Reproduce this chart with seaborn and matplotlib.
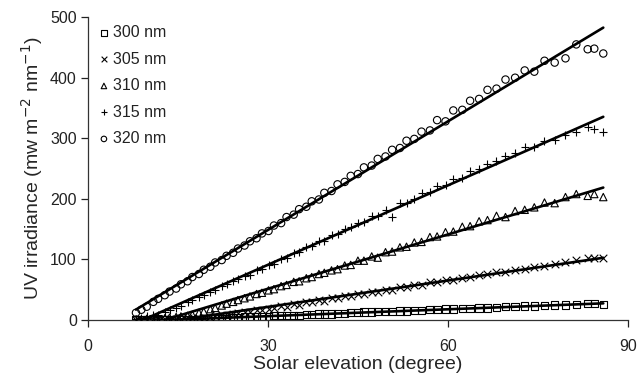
import numpy as np
import pandas as pd
import matplotlib
matplotlib.use("Agg")
import matplotlib.pyplot as plt
import seaborn as sns

elevation = [8.0, 8.9, 9.8, 10.9, 11.7, 12.8, 13.6, 14.7, 15.5, 16.6, 17.4, 18.5, 19.3, 20.4,
             21.2, 22.3, 23.1, 24.2, 25.0, 26.1, 27.0, 28.1, 29.0, 30.1, 31.0, 32.2, 33.1, 34.3,
             35.2, 36.4, 37.3, 38.5, 39.4, 40.6, 41.6, 42.8, 43.8, 45.0, 46.0, 47.3, 48.3, 49.6,
             50.7, 52.0, 53.1, 54.4, 55.6, 57.0, 58.2, 59.6, 60.9, 62.4, 63.7, 65.2, 66.6, 68.1,
             69.6, 71.2, 72.8, 74.4, 76.1, 77.8, 79.6, 81.4, 83.3, 84.4, 85.9]

uv_300 = [0, 0, 0, 0, 0, 0, 0, 0, 0, 1, 1, 1, 2, 2, 3, 3, 3, 4, 4, 5, 5, 5, 6, 6, 7, 7, 7, 8,
          8, 9, 9, 10, 10, 10, 11, 11, 12, 12, 13, 13, 14, 14, 14, 15, 15, 16, 16, 17, 17, 18,
          18, 19, 19, 20, 20, 21, 22, 22, 23, 23, 24, 25, 25, 26, 27, 27, 26]

uv_305 = [0, 0, 0, 1, 1, 1, 1, 2, 2, 3, 3, 4, 4, 5, 6, 8, 8, 10, 11, 13, 14, 16, 17, 19, 20,
          23, 22, 27, 25, 30, 29, 33, 32, 36, 36, 40, 39, 43, 43, 47, 46, 50, 50, 54, 54, 58,
          58, 62, 62, 66, 66, 70, 71, 74, 76, 79, 80, 83, 85, 87, 90, 93, 96, 99, 102, 103, 102]

uv_310 = [1, 1, 2, 2, 3, 3, 4, 5, 6, 7, 9, 12, 14, 18, 20, 24, 27, 30, 33, 36, 39, 43, 45, 49,
          51, 56, 58, 63, 64, 69, 71, 76, 78, 82, 84, 90, 91, 98, 98, 105, 103, 112, 113, 120,
          121, 128, 129, 137, 138, 145, 146, 154, 155, 163, 165, 172, 170, 180, 182, 186, 194,
          193, 203, 208, 205, 208, 203]

uv_315 = [2, 4, 6, 8, 9, 13, 16, 20, 24, 29, 33, 38, 42, 47, 50, 56, 59, 64, 67, 73, 75, 82,
          84, 91, 93, 101, 103, 111, 112, 121, 122, 131, 131, 141, 142, 151, 153, 161, 162, 172,
          172, 182, 170, 193, 194, 200, 209, 212, 221, 223, 233, 235, 246, 249, 258, 262, 271,
          275, 285, 285, 296, 298, 305, 310, 318, 316, 310]

uv_320 = [12, 17, 22, 30, 35, 41, 47, 52, 59, 64, 71, 76, 83, 88, 95, 99, 106, 111, 118, 123,
          130, 135, 143, 147, 156, 160, 170, 174, 183, 187, 196, 199, 210, 213, 224, 228, 238,
          241, 252, 255, 266, 270, 281, 284, 296, 299, 311, 313, 330, 328, 346, 347, 362, 365,
          380, 382, 397, 400, 412, 410, 428, 425, 432, 455, 447, 448, 440]

wavelengths = ["300 nm", "305 nm", "310 nm", "315 nm", "320 nm"]
series = [uv_300, uv_305, uv_310, uv_315, uv_320]
markers = ["s", "x", "^", "+", "o"]

x_ticks = [0, 30, 60, 90]
y_ticks = [0, 100, 200, 300, 400, 500]

sns.set_theme(style="white")
plt.rcParams["font.family"] = ["Liberation Sans", "DejaVu Sans"]
plt.rcParams["text.color"] = "#222222"

fig = plt.figure(figsize=(6.42, 3.81), dpi=100)
ax = fig.add_axes([0.137, 0.160, 0.841, 0.795])

for name, vals, mk in zip(wavelengths, series, markers):
    df = pd.DataFrame({"elev": elevation, "uv": vals})
    if mk in ("x", "+"):
        sns.scatterplot(data=df, x="elev", y="uv", marker=mk, color="black", s=30,
                        linewidth=0.8, ax=ax, label=name, zorder=3)
    else:
        sns.scatterplot(data=df, x="elev", y="uv", marker=mk, facecolor="none",
                        edgecolor="black", s=28, linewidth=0.8, ax=ax, label=name, zorder=3)
    sns.regplot(data=df, x="elev", y="uv", scatter=False, ci=None, truncate=True,
                line_kws={"color": "black", "lw": 1.9, "zorder": 4}, ax=ax)

ax.set_xlim(0, 90)
ax.set_ylim(0, 500)
ax.set_xticks(x_ticks)
ax.set_yticks(y_ticks)
ax.tick_params(axis="both", labelsize=11.5, colors="#222222", length=5, width=0.9,
               direction="out", bottom=True, left=True)
ax.tick_params(axis="x", pad=9)
ax.tick_params(axis="y", pad=3)
for s in ["top", "right"]:
    ax.spines[s].set_visible(False)
for s in ["left", "bottom"]:
    ax.spines[s].set_color("#333333")
    ax.spines[s].set_linewidth(0.9)

ax.set_xlabel("Solar elevation (degree)", fontsize=14, labelpad=1)
ax.set_ylabel("UV irradiance (mw m$^{-2}$ nm$^{-1}$)", fontsize=14, labelpad=4)

leg = ax.legend(loc="upper left", frameon=False, fontsize=11.5, handletextpad=0.05,
                borderaxespad=0.1, labelspacing=0.72, handlelength=1.0, markerscale=0.75,
                bbox_to_anchor=(0.0, 1.0))

fig.savefig("out.png", dpi=100)
